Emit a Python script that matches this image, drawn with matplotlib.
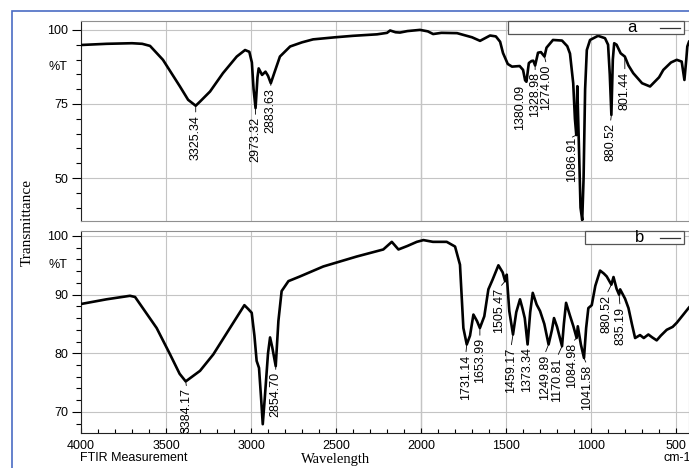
import matplotlib
matplotlib.use('Agg')
import matplotlib.pyplot as plt
import numpy as np
from matplotlib.patches import Rectangle
from matplotlib.ticker import MultipleLocator, FixedLocator
import matplotlib.transforms as mtransforms

plt.rcParams['font.family'] = 'Liberation Sans'

# spectrum a (wavenumber cm-1, %T)
wn_a = [4000, 3850, 3700, 3640, 3594, 3518, 3418, 3370, 3325.34, 3300, 3241, 3165,
        3084, 3035, 3010, 2995, 2985, 2973.32, 2962, 2955, 2935, 2915, 2900, 2883.63,
        2860, 2830, 2770, 2700, 2635, 2506, 2400, 2259, 2200, 2182, 2150, 2124, 2080,
        2006, 1960, 1929, 1880, 1788, 1700, 1653, 1594, 1560, 1535, 1518, 1490, 1465,
        1420, 1400, 1388, 1380.09, 1366, 1350, 1340, 1328.98, 1312, 1295, 1274.00,
        1262, 1224, 1171, 1140, 1124, 1105, 1095, 1086.91, 1081, 1072, 1062, 1052,
        1044, 1035, 1025, 1006, 959, 918, 900, 890, 880.52, 872, 864, 850, 826,
        801.44, 780, 752, 700, 653, 600, 575, 530, 496, 467, 451, 440, 434, 424]
t_a = [94.9, 95.3, 95.5, 95.3, 94.6, 89.9, 80.9, 76.4, 74.4, 75.8, 79.2, 85.4,
       91.0, 93.2, 92.6, 89.0, 80.0, 73.6, 84.0, 87.0, 84.8, 85.9, 84.5, 82.0,
       86.0, 91.0, 94.4, 95.8, 96.8, 97.5, 98.0, 98.5, 99.0, 99.8, 99.2, 99.1, 99.6,
       100.0, 99.5, 98.6, 99.0, 98.9, 97.5, 96.3, 98.1, 97.8, 96.0, 92.2, 88.5, 87.6,
       87.8, 86.5, 83.0, 82.5, 88.8, 89.5, 89.6, 88.0, 92.3, 92.5, 91.0,
       94.0, 96.6, 96.4, 94.5, 92.0, 82.0, 70.0, 64.5, 81.0, 62.0, 40.0, 35.8,
       50.0, 80.0, 93.2, 96.6, 98.0, 97.2, 95.0, 85.0, 71.3, 90.0, 95.5, 95.0, 92.1,
       91.0, 88.0, 85.4, 82.0, 80.9, 84.0, 86.5, 89.0, 89.9, 89.3, 83.1, 90.0, 94.4, 96.0]
peaks_a = [3325.34, 2973.32, 2883.63, 1380.09, 1328.98, 1274.00, 1086.91, 880.52, 801.44]

# spectrum b
wn_b = [4000, 3850, 3712, 3682, 3555, 3476, 3420, 3384.17, 3300, 3222, 3124, 3039,
        3015, 2996, 2980, 2967, 2953, 2940, 2931, 2920, 2900, 2888, 2875, 2854.70,
        2839, 2820, 2780, 2712, 2575, 2378, 2222, 2172, 2133, 2080, 2025, 1986, 1930,
        1849, 1800, 1771, 1751, 1731.14, 1712, 1692, 1671, 1653.99, 1628, 1604, 1580,
        1545, 1520, 1505.47, 1496, 1481, 1459.17, 1440, 1418, 1404, 1390, 1373.34,
        1358, 1343, 1320, 1300, 1275, 1249.89, 1230, 1218, 1200, 1170.81, 1160, 1147,
        1125, 1104, 1084.98, 1078, 1060, 1041.58, 1029, 1016, 996, 975, 947, 925, 908,
        880.52, 868, 850, 835.19, 829, 800, 780, 760, 741, 712, 690, 663, 640, 614,
        590, 555, 520, 496, 460, 427, 424]
t_b = [88.4, 89.2, 89.8, 89.6, 84.3, 79.8, 76.5, 75.2, 77.0, 79.8, 84.3, 88.2,
       87.5, 86.9, 83.0, 78.7, 77.5, 72.0, 67.9, 72.0, 80.0, 82.7, 81.0, 77.8,
       85.5, 90.6, 92.3, 93.1, 94.8, 96.5, 97.7, 99.0, 97.7, 98.3, 99.0, 99.3, 99.0,
       99.0, 98.2, 95.1, 84.3, 81.5, 83.0, 86.6, 85.5, 84.3, 86.3, 90.9, 92.5,
       95.0, 93.8, 92.3, 93.4, 87.2, 83.2, 87.0, 89.2, 87.7, 86.0, 81.5,
       87.0, 90.3, 88.3, 87.2, 85.0, 81.5, 84.0, 86.0, 84.5, 81.2, 85.0, 88.6,
       86.5, 84.6, 82.6, 84.6, 81.5, 79.2, 84.3, 87.7, 88.2, 91.5, 94.1, 93.6, 93.1,
       91.7, 93.0, 91.0, 90.0, 90.9, 89.3, 87.7, 85.0, 82.6, 83.1, 82.6, 83.2, 82.7, 82.2,
       83.0, 84.0, 84.5, 85.2, 86.5, 87.7, 87.8]
peaks_b = [3384.17, 2854.70, 1731.14, 1653.99, 1505.47, 1459.17, 1373.34, 1249.89,
           1170.81, 1084.98, 1041.58, 880.52, 835.19]

# label nudges in pixels: (dx, gap below the peak)
nudge_a = [(0, 9), (0, 9), (0, 5), (-6, 3), (0, 7), (2, 8), (-4, 2), (-1, 8), (0, 15)]
nudge_b = [(1, 7), (0, 6), (-1, 10), (0, 10), (-6, 7), (-2, 13), (-1, 3), (-4, 10),
           (-5, 11), (-5, 5), (3, 7), (-5, 10), (1, 12)]

PX = 0.72  # points per pixel at dpi 100


def style_axes(ax, ylim, major, minor, pct_y):
    ax.set_xlim(4000, 424)
    ax.set_ylim(*ylim)
    ax.yaxis.set_major_locator(FixedLocator(major))
    ax.yaxis.set_minor_locator(MultipleLocator(minor))
    ax.xaxis.set_major_locator(MultipleLocator(500))
    ax.xaxis.set_minor_locator(MultipleLocator(100))
    ax.grid(True, which='major', color='#c4c4c4', lw=0.8)
    ax.axvline(2000, color='#333333', lw=0.8, zorder=1)
    ax.tick_params(axis='y', which='major', direction='out', length=6.5, width=0.8,
                   pad=2.5, labelsize=9)
    ax.tick_params(axis='y', which='minor', direction='out', length=3.5, width=0.8)
    for s in ['top', 'right', 'bottom']:
        ax.spines[s].set_color('#909090')
    ax.spines['left'].set_color('#222222')
    trans = mtransforms.blended_transform_factory(ax.transAxes, ax.transData)
    ax.text(-0.022, pct_y, '%T', transform=trans, ha='right', va='center', fontsize=9)


def label_peaks(ax, wn, t, peaks, nudges):
    x = np.array(wn)[::-1]
    y = np.array(t)[::-1]
    for p, (dx, gap) in zip(peaks, nudges):
        yp = np.interp(p, x, y)
        ax.annotate('%.2f' % p, xy=(p, yp), xytext=(dx * PX, -gap * PX),
                    textcoords='offset points', rotation=90, ha='center', va='top',
                    fontsize=9, annotation_clip=False,
                    arrowprops=dict(arrowstyle='-', lw=0.6, color='black',
                                    shrinkA=0, shrinkB=0, relpos=(0.5, 1.0)))


def legend_box(ax, x0, letter, lx):
    ax.add_patch(Rectangle((x0, 0.935), 0.992 - x0, 0.065, transform=ax.transAxes,
                           facecolor='white', edgecolor='#555555', lw=0.9, zorder=5,
                           clip_on=False))
    ax.text(lx, 0.967, letter, transform=ax.transAxes, ha='center', va='center',
            fontsize=12, zorder=6)
    ax.plot([0.952, 0.985], [0.967, 0.967], transform=ax.transAxes, color='#333333',
            lw=0.9, zorder=6)


fig = plt.figure(figsize=(6.89, 4.68), dpi=100)
ax1 = fig.add_axes([81 / 689, 1 - 221 / 468, 608 / 689, 200 / 468])
ax2 = fig.add_axes([81 / 689, 1 - 433 / 468, 608 / 689, 202 / 468])

ax1.plot(wn_a, t_a, color='black', lw=1.9, zorder=3)
style_axes(ax1, (35.5, 103.0), [50, 75, 100], 5, 87.5)
ax1.tick_params(axis='x', which='both', length=0, labelbottom=False)
label_peaks(ax1, wn_a, t_a, peaks_a, nudge_a)
legend_box(ax1, 0.702, 'a', 0.906)

ax2.plot(wn_b, t_b, color='black', lw=1.9, zorder=3)
style_axes(ax2, (66.4, 100.85), [70, 80, 90, 100], 2, 95)
ax2.tick_params(axis='x', which='major', direction='in', length=3.5, width=0.8,
                pad=5, labelsize=9)
ax2.tick_params(axis='x', which='minor', direction='in', length=3, width=0.8)
ax2.spines['bottom'].set_color('#222222')
label_peaks(ax2, wn_b, t_b, peaks_b, nudge_b)
legend_box(ax2, 0.829, 'b', 0.919)

fig.text(27 / 689, 1 - 222 / 468, 'Transmittance', rotation=90, ha='center', va='center',
         family='Liberation Serif', fontsize=11)
fig.text(134 / 689, 1 - 458 / 468, 'FTIR Measurement', ha='center', va='center', fontsize=9)
fig.text(336 / 689, 1 - 459 / 468, 'Wavelength', ha='center', va='center',
         family='Liberation Serif', fontsize=10.5)
fig.text(663 / 689, 1 - 458 / 468, 'cm-1', ha='left', va='center', fontsize=9)

fig.add_artist(Rectangle((12 / 689, -0.1), 1.1, 1 - 11 / 468 + 0.1, transform=fig.transFigure,
                         facecolor='none', edgecolor='#4a6cc4', lw=1.2))

fig.savefig('out.png', dpi=100)
